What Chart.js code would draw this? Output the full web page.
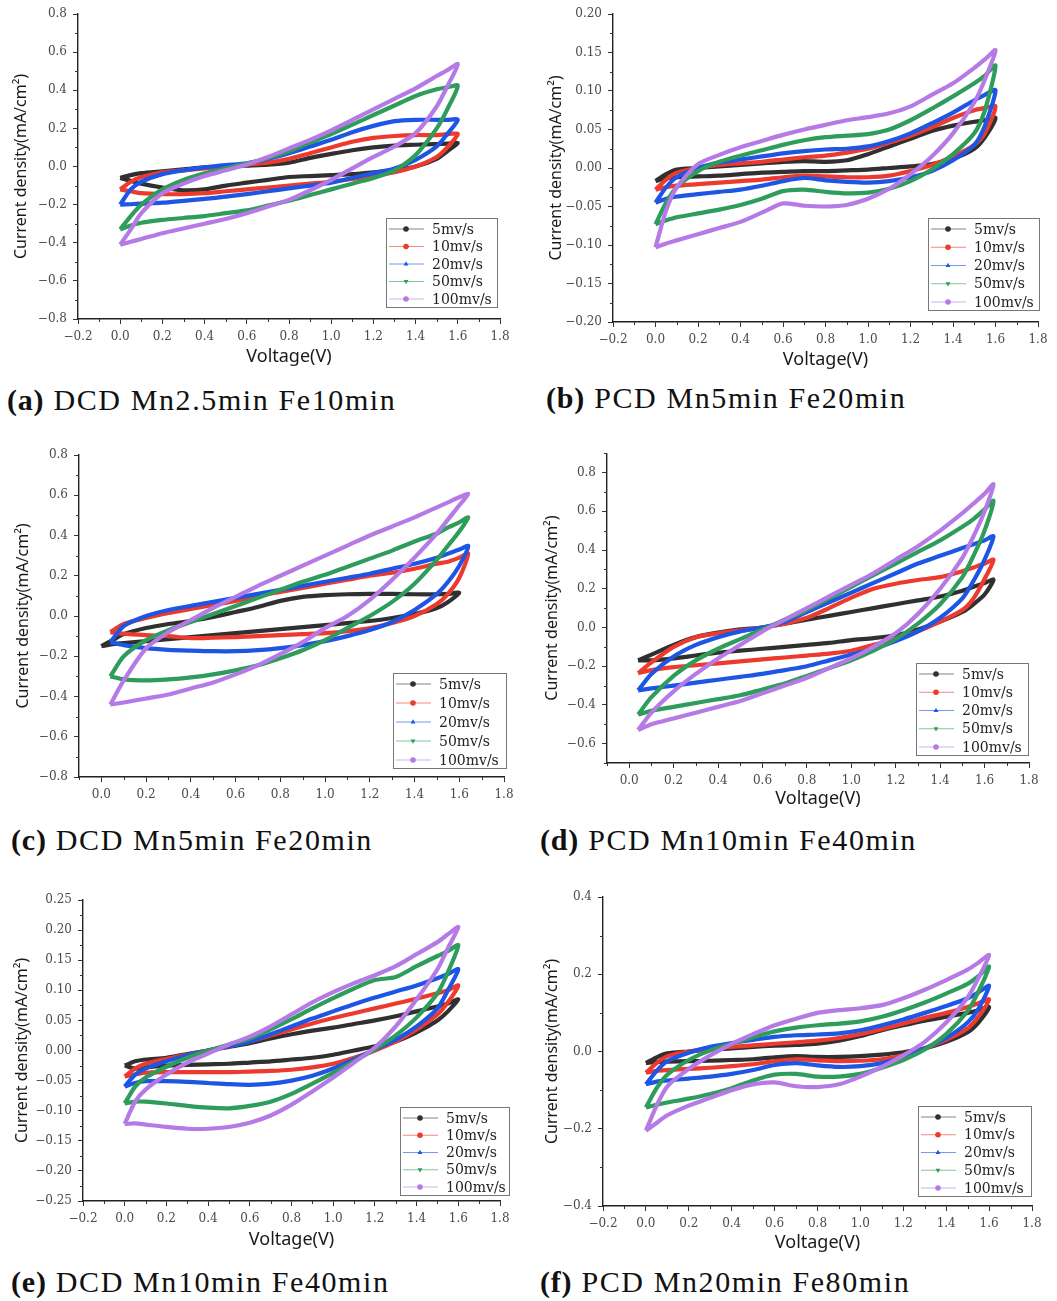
<!DOCTYPE html>
<html>
<head>
<meta charset="utf-8">
<script src="https://cdn.jsdelivr.net/npm/chart.js@4.4.1/dist/chart.umd.min.js"></script>
<style>
  body { margin: 0; background: #fff; width: 1057px; height: 1301px; position: relative; overflow: hidden; }
  canvas { position: absolute; }
  .cap { position: absolute; font-family: 'Liberation Serif', serif; font-size: 30px; line-height: 30px;
         letter-spacing: 1.6px; color: #111; white-space: nowrap; }
  .cap b { letter-spacing: 0.8px; }
</style>
</head>
<body>
<canvas id="cvA"></canvas>
<canvas id="cvB"></canvas>
<canvas id="cvC"></canvas>
<canvas id="cvD"></canvas>
<canvas id="cvE"></canvas>
<canvas id="cvF"></canvas>
<div class="cap" style="left:7px;top:385px"><b>(a)</b> DCD Mn2.5min Fe10min</div>
<div class="cap" style="left:546px;top:383px"><b>(b)</b> PCD Mn5min Fe20min</div>
<div class="cap" style="left:11px;top:825px"><b>(c)</b> DCD Mn5min Fe20min</div>
<div class="cap" style="left:540px;top:825px"><b>(d)</b> PCD Mn10min Fe40min</div>
<div class="cap" style="left:11px;top:1267px"><b>(e)</b> DCD Mn10min Fe40min</div>
<div class="cap" style="left:540px;top:1267px"><b>(f)</b> PCD Mn20min Fe80min</div>
<script>
// scan rates and their colours / markers
const rates = ['5mv/s', '10mv/s', '20mv/s', '50mv/s', '100mv/s'];
const colors = ['#303030', '#ec3a2e', '#1d55e4', '#2e9c5a', '#b57ae6'];
const markers = ['circle', 'circle', 'triangle', 'triangle', 'circle'];
const markerRot = [0, 0, 0, 180, 0];

// potential sweep: forward scan then reverse scan (V)
const scan0 = [0, 0.05, 0.1, 0.2, 0.3, 0.4, 0.5, 0.6, 0.7, 0.8, 0.9, 1.0, 1.1, 1.2, 1.3, 1.4, 1.5, 1.55, 1.6,
  1.55, 1.5, 1.4, 1.3, 1.2, 1.1, 1.0, 0.9, 0.8, 0.7, 0.6, 0.5, 0.4, 0.3, 0.2, 0.1, 0.05, 0];
const scan4 = [0.04, 0.1, 0.2, 0.3, 0.4, 0.5, 0.6, 0.7, 0.8, 0.9, 1.0, 1.1, 1.2, 1.3, 1.4, 1.5, 1.55, 1.6, 1.64,
  1.6, 1.55, 1.5, 1.4, 1.3, 1.2, 1.1, 1.0, 0.9, 0.8, 0.7, 0.6, 0.5, 0.4, 0.3, 0.2, 0.1, 0.04];

// axis ticks
const xTicksFull = [-0.2, 0, 0.2, 0.4, 0.6, 0.8, 1.0, 1.2, 1.4, 1.6, 1.8];
const xTicksPos = [0, 0.2, 0.4, 0.6, 0.8, 1.0, 1.2, 1.4, 1.6, 1.8];
const yTicksA = [-0.8, -0.6, -0.4, -0.2, 0, 0.2, 0.4, 0.6, 0.8];
const yTicksB = [-0.2, -0.15, -0.1, -0.05, 0, 0.05, 0.1, 0.15, 0.2];
const yTicksD = [-0.6, -0.4, -0.2, 0, 0.2, 0.4, 0.6, 0.8];
const yTicksE = [-0.25, -0.2, -0.15, -0.1, -0.05, 0, 0.05, 0.1, 0.15, 0.2, 0.25];
const yTicksF = [-0.4, -0.2, 0, 0.2, 0.4];

// (a) DCD Mn2.5min Fe10min, current density mA/cm2
const a5 = [-0.06, -0.045, -0.035, -0.025, -0.015, -0.005, 0.0, 0.005, 0.01, 0.02, 0.045, 0.066, 0.085, 0.1, 0.11, 0.114, 0.118, 0.12, 0.123,
  0.08, 0.04, 0.0, -0.02, -0.03, -0.04, -0.045, -0.05, -0.055, -0.07, -0.085, -0.1, -0.12, -0.125, -0.11, -0.09, -0.075, -0.06];
const a10 = [-0.12, -0.08, -0.055, -0.03, -0.02, -0.01, 0.0, 0.01, 0.02, 0.04, 0.07, 0.1, 0.13, 0.15, 0.16, 0.165, 0.165, 0.17, 0.17,
  0.1, 0.05, 0.0, -0.03, -0.05, -0.065, -0.08, -0.09, -0.1, -0.11, -0.12, -0.13, -0.14, -0.145, -0.145, -0.14, -0.13, -0.12];
const a20 = [-0.2, -0.12, -0.08, -0.04, -0.02, -0.005, 0.007, 0.017, 0.04, 0.07, 0.105, 0.14, 0.18, 0.213, 0.238, 0.245, 0.245, 0.245, 0.245,
  0.17, 0.105, 0.035, -0.01, -0.035, -0.06, -0.085, -0.1, -0.115, -0.13, -0.145, -0.158, -0.17, -0.18, -0.19, -0.195, -0.198, -0.2];
const a50 = [-0.33, -0.26, -0.2, -0.12, -0.07, -0.035, -0.01, 0.015, 0.045, 0.08, 0.125, 0.17, 0.22, 0.27, 0.32, 0.37, 0.405, 0.415, 0.424,
  0.3, 0.2, 0.06, -0.02, -0.06, -0.09, -0.12, -0.15, -0.18, -0.205, -0.23, -0.245, -0.26, -0.27, -0.28, -0.295, -0.31, -0.33];
const a100 = [-0.41, -0.33, -0.245, -0.14, -0.09, -0.05, -0.02, 0.01, 0.05, 0.095, 0.14, 0.19, 0.245, 0.3, 0.355, 0.41, 0.475, 0.505, 0.537,
  0.42, 0.315, 0.175, 0.105, 0.05, -0.01, -0.07, -0.125, -0.175, -0.21, -0.245, -0.275, -0.3, -0.325, -0.35, -0.38, -0.395, -0.41];

// (b) PCD Mn5min Fe20min
const b5 = [-0.017, -0.008, -0.002, 0.0, 0.002, 0.004, 0.006, 0.008, 0.009, 0.008, 0.01, 0.018, 0.028, 0.038, 0.048, 0.055, 0.06, 0.062, 0.065,
  0.04, 0.025, 0.012, 0.005, 0.002, 0.0, -0.002, -0.003, -0.004, -0.004, -0.005, -0.006, -0.008, -0.01, -0.011, -0.012, -0.013, -0.017];
const b10 = [-0.028, -0.015, -0.006, 0.0, 0.004, 0.006, 0.008, 0.011, 0.014, 0.016, 0.02, 0.025, 0.033, 0.042, 0.053, 0.065, 0.075, 0.078, 0.08,
  0.045, 0.03, 0.015, 0.004, -0.004, -0.01, -0.012, -0.012, -0.011, -0.01, -0.012, -0.015, -0.017, -0.019, -0.021, -0.023, -0.025, -0.028];
const b20 = [-0.045, -0.025, -0.012, 0.0, 0.007, 0.011, 0.015, 0.019, 0.022, 0.024, 0.025, 0.028, 0.035, 0.045, 0.058, 0.072, 0.088, 0.095, 0.101,
  0.055, 0.03, 0.01, -0.004, -0.012, -0.017, -0.019, -0.018, -0.016, -0.013, -0.017, -0.023, -0.028, -0.031, -0.034, -0.037, -0.04, -0.045];
const b50 = [-0.073, -0.045, -0.025, -0.004, 0.008, 0.016, 0.023, 0.03, 0.036, 0.04, 0.042, 0.044, 0.05, 0.062, 0.077, 0.093, 0.11, 0.12, 0.133,
  0.075, 0.045, 0.018, -0.002, -0.017, -0.027, -0.032, -0.033, -0.031, -0.028, -0.03, -0.04, -0.048, -0.054, -0.059, -0.064, -0.068, -0.073];
const b100 = [-0.103, -0.055, -0.025, 0.005, 0.017, 0.027, 0.035, 0.043, 0.05, 0.056, 0.062, 0.066, 0.071, 0.08, 0.095, 0.11, 0.13, 0.141, 0.153,
  0.115, 0.085, 0.045, 0.015, -0.008, -0.027, -0.04, -0.048, -0.05, -0.049, -0.046, -0.058, -0.07, -0.078, -0.086, -0.094, -0.098, -0.103];

// (c) DCD Mn5min Fe20min (5 mV/s on scan0, the rest on scan4)
const c5 = [-0.15, -0.12, -0.09, -0.06, -0.04, -0.025, -0.005, 0.02, 0.045, 0.075, 0.095, 0.104, 0.108, 0.11, 0.11, 0.108, 0.108, 0.11, 0.115,
  0.07, 0.04, 0.01, -0.01, -0.025, -0.035, -0.045, -0.055, -0.065, -0.075, -0.085, -0.095, -0.105, -0.115, -0.125, -0.135, -0.14, -0.15];
const c10 = [-0.08, -0.04, -0.01, 0.015, 0.035, 0.055, 0.075, 0.1, 0.12, 0.14, 0.16, 0.18, 0.2, 0.215, 0.235, 0.26, 0.27, 0.29, 0.31,
  0.19, 0.11, 0.06, 0.0, -0.035, -0.06, -0.075, -0.085, -0.09, -0.095, -0.1, -0.105, -0.108, -0.11, -0.1, -0.095, -0.088, -0.08];
const c20 = [-0.13, -0.05, 0.0, 0.03, 0.05, 0.07, 0.09, 0.11, 0.13, 0.15, 0.17, 0.19, 0.21, 0.235, 0.26, 0.29, 0.31, 0.33, 0.348,
  0.25, 0.17, 0.11, 0.03, -0.03, -0.07, -0.1, -0.125, -0.145, -0.16, -0.17, -0.175, -0.175, -0.172, -0.168, -0.16, -0.145, -0.13];
const c50 = [-0.3, -0.2, -0.12, -0.07, -0.03, 0.01, 0.05, 0.09, 0.13, 0.17, 0.205, 0.245, 0.285, 0.325, 0.37, 0.41, 0.44, 0.465, 0.49,
  0.42, 0.35, 0.28, 0.16, 0.07, 0.0, -0.06, -0.12, -0.17, -0.21, -0.245, -0.27, -0.29, -0.305, -0.315, -0.32, -0.315, -0.3];
const c100 = [-0.44, -0.32, -0.16, -0.08, -0.02, 0.04, 0.095, 0.15, 0.2, 0.25, 0.3, 0.35, 0.4, 0.445, 0.49, 0.54, 0.565, 0.59, 0.606,
  0.55, 0.48, 0.41, 0.29, 0.18, 0.08, 0.0, -0.06, -0.13, -0.19, -0.245, -0.29, -0.33, -0.36, -0.39, -0.41, -0.43, -0.44];

// (d) PCD Mn10min Fe40min (scan4)
const d5 = [-0.17, -0.14, -0.09, -0.05, -0.027, -0.01, 0.0, 0.02, 0.04, 0.06, 0.08, 0.1, 0.12, 0.14, 0.16, 0.19, 0.21, 0.23, 0.247,
  0.17, 0.12, 0.08, 0.03, -0.01, -0.04, -0.055, -0.065, -0.08, -0.09, -0.1, -0.11, -0.12, -0.13, -0.145, -0.16, -0.17, -0.17];
const d10 = [-0.236, -0.18, -0.1, -0.05, -0.03, -0.015, 0.0, 0.02, 0.05, 0.1, 0.154, 0.2, 0.226, 0.245, 0.26, 0.29, 0.31, 0.33, 0.35,
  0.25, 0.15, 0.09, 0.03, -0.02, -0.06, -0.09, -0.12, -0.135, -0.145, -0.155, -0.165, -0.175, -0.185, -0.195, -0.205, -0.22, -0.236];
const d20 = [-0.325, -0.24, -0.15, -0.09, -0.05, -0.02, 0.0, 0.03, 0.08, 0.13, 0.18, 0.23, 0.28, 0.33, 0.37, 0.41, 0.43, 0.45, 0.471,
  0.35, 0.24, 0.15, 0.05, -0.02, -0.07, -0.11, -0.14, -0.17, -0.2, -0.22, -0.24, -0.255, -0.27, -0.285, -0.3, -0.315, -0.325];
const d50 = [-0.45, -0.36, -0.25, -0.17, -0.11, -0.06, -0.01, 0.04, 0.09, 0.15, 0.21, 0.27, 0.33, 0.39, 0.45, 0.52, 0.56, 0.61, 0.654,
  0.5, 0.37, 0.26, 0.12, 0.02, -0.06, -0.12, -0.17, -0.21, -0.25, -0.29, -0.32, -0.35, -0.37, -0.39, -0.41, -0.43, -0.45];
const d100 = [-0.53, -0.44, -0.33, -0.24, -0.16, -0.09, -0.02, 0.04, 0.1, 0.16, 0.22, 0.28, 0.35, 0.42, 0.5, 0.59, 0.64, 0.69, 0.74,
  0.6, 0.47, 0.36, 0.2, 0.07, -0.03, -0.1, -0.16, -0.21, -0.26, -0.3, -0.34, -0.38, -0.41, -0.44, -0.47, -0.5, -0.53];

// (e) DCD Mn10min Fe40min (scan0)
const e5 = [-0.025, -0.018, -0.015, -0.012, -0.006, 0.0, 0.006, 0.012, 0.02, 0.027, 0.033, 0.038, 0.044, 0.05, 0.057, 0.065, 0.073, 0.078, 0.085,
  0.065, 0.05, 0.03, 0.015, 0.007, 0.0, -0.007, -0.012, -0.015, -0.018, -0.02, -0.022, -0.023, -0.024, -0.025, -0.028, -0.03, -0.025];
const e10 = [-0.043, -0.03, -0.022, -0.014, -0.007, 0.0, 0.007, 0.015, 0.025, 0.035, 0.045, 0.054, 0.062, 0.07, 0.078, 0.086, 0.095, 0.1, 0.108,
  0.08, 0.06, 0.035, 0.015, 0.0, -0.012, -0.022, -0.028, -0.032, -0.034, -0.035, -0.036, -0.036, -0.036, -0.036, -0.037, -0.04, -0.043];
const e20 = [-0.06, -0.04, -0.03, -0.018, -0.008, 0.0, 0.007, 0.015, 0.027, 0.04, 0.053, 0.065, 0.077, 0.088, 0.098, 0.108, 0.12, 0.127, 0.135,
  0.1, 0.07, 0.04, 0.018, 0.002, -0.015, -0.03, -0.042, -0.05, -0.055, -0.057, -0.056, -0.054, -0.052, -0.051, -0.051, -0.054, -0.06];
const e50 = [-0.088, -0.06, -0.045, -0.027, -0.012, 0.0, 0.01, 0.02, 0.035, 0.052, 0.07, 0.087, 0.103, 0.117, 0.122, 0.14, 0.157, 0.165, 0.175,
  0.13, 0.095, 0.055, 0.025, 0.002, -0.018, -0.037, -0.055, -0.072, -0.085, -0.092, -0.096, -0.095, -0.092, -0.088, -0.085, -0.085, -0.088];
const e100 = [-0.122, -0.085, -0.065, -0.04, -0.02, -0.005, 0.01, 0.023, 0.04, 0.06, 0.08, 0.097, 0.112, 0.125, 0.14, 0.16, 0.18, 0.193, 0.205,
  0.17, 0.135, 0.085, 0.04, 0.005, -0.02, -0.045, -0.068, -0.09, -0.108, -0.12, -0.127, -0.13, -0.13, -0.127, -0.123, -0.121, -0.122];

// (f) PCD Mn20min Fe80min (scan0)
const f5 = [-0.03, -0.015, -0.005, 0.0, 0.005, 0.008, 0.012, 0.015, 0.017, 0.02, 0.028, 0.04, 0.055, 0.068, 0.08, 0.09, 0.1, 0.107, 0.115,
  0.075, 0.05, 0.025, 0.008, -0.002, -0.008, -0.012, -0.014, -0.014, -0.012, -0.015, -0.02, -0.022, -0.024, -0.025, -0.026, -0.027, -0.03];
const f10 = [-0.055, -0.03, -0.012, 0.0, 0.007, 0.012, 0.016, 0.02, 0.024, 0.028, 0.035, 0.045, 0.058, 0.072, 0.087, 0.1, 0.115, 0.125, 0.135,
  0.09, 0.06, 0.03, 0.008, -0.01, -0.02, -0.024, -0.025, -0.023, -0.02, -0.025, -0.033, -0.038, -0.042, -0.045, -0.048, -0.05, -0.055];
const f20 = [-0.085, -0.05, -0.025, -0.003, 0.012, 0.022, 0.03, 0.038, 0.042, 0.044, 0.047, 0.055, 0.068, 0.083, 0.1, 0.118, 0.138, 0.153, 0.17,
  0.11, 0.075, 0.035, 0.008, -0.015, -0.03, -0.038, -0.04, -0.036, -0.03, -0.035, -0.048, -0.058, -0.065, -0.07, -0.075, -0.078, -0.085];
const f50 = [-0.145, -0.095, -0.06, -0.022, 0.003, 0.02, 0.037, 0.052, 0.062, 0.068, 0.072, 0.078, 0.09, 0.107, 0.127, 0.15, 0.175, 0.195, 0.22,
  0.155, 0.105, 0.045, 0.005, -0.022, -0.042, -0.058, -0.065, -0.065, -0.058, -0.06, -0.075, -0.095, -0.11, -0.122, -0.132, -0.138, -0.145];
const f100 = [-0.205, -0.14, -0.09, -0.045, -0.01, 0.02, 0.045, 0.068, 0.085, 0.1, 0.107, 0.112, 0.12, 0.138, 0.16, 0.185, 0.212, 0.23, 0.25,
  0.19, 0.14, 0.075, 0.025, -0.01, -0.04, -0.065, -0.085, -0.092, -0.09, -0.08, -0.085, -0.1, -0.12, -0.14, -0.165, -0.185, -0.205];

// box = canvas [left, top, w, h]; area = plot [left, top, right, bottom]; legend = [left, top, w, h] (page px)
const panels = [
  { id: 'cvA', box: [0, 0, 525, 372], area: [78, 14, 500, 319], x: [-0.2, 1.8], y: [-0.8, 0.8],
    xTicks: xTicksFull, yTicks: yTicksA, digits: 1, xTitle: 357, yTitle: 21, legend: [386, 218, 111, 89],
    scans: [scan0, scan0, scan0, scan0, scan0], loops: [a5, a10, a20, a50, a100] },
  { id: 'cvB', box: [530, 0, 527, 372], area: [613, 14, 1038, 322], x: [-0.2, 1.8], y: [-0.2, 0.2],
    xTicks: xTicksFull, yTicks: yTicksB, digits: 2, xTitle: 360, yTitle: 556, legend: [928, 218, 111, 92],
    scans: [scan0, scan0, scan0, scan0, scan0], loops: [b5, b10, b20, b50, b100] },
  { id: 'cvC', box: [0, 440, 525, 372], area: [79, 455, 504, 777], x: [-0.1, 1.8], y: [-0.8, 0.8],
    xTicks: xTicksPos, yTicks: yTicksA, digits: 1, xTitle: null, yTitle: 23, legend: [393, 673, 113, 95],
    scans: [scan0, scan4, scan4, scan4, scan4], loops: [c5, c10, c20, c50, c100] },
  { id: 'cvD', box: [530, 440, 527, 372], area: [607, 453, 1029, 763], x: [-0.1, 1.8], y: [-0.7, 0.9],
    xTicks: xTicksPos, yTicks: yTicksD, digits: 1, xTitle: 799, yTitle: 552, legend: [916, 663, 112, 92],
    scans: [scan4, scan4, scan4, scan4, scan4], loops: [d5, d10, d20, d50, d100] },
  { id: 'cvE', box: [0, 880, 525, 372], area: [83, 900, 500, 1201], x: [-0.2, 1.8], y: [-0.25, 0.25],
    xTicks: xTicksFull, yTicks: yTicksE, digits: 2, xTitle: 1240, yTitle: 22, legend: [400, 1107, 109, 88],
    scans: [scan0, scan0, scan0, scan0, scan0], loops: [e5, e10, e20, e50, e100] },
  { id: 'cvF', box: [530, 880, 527, 372], area: [603, 897, 1032, 1206], x: [-0.2, 1.8], y: [-0.4, 0.4],
    xTicks: xTicksFull, yTicks: yTicksF, digits: 1, xTitle: 1243, yTitle: 552, legend: [918, 1106, 113, 90],
    scans: [scan0, scan0, scan0, scan0, scan0], loops: [f5, f10, f20, f50, f100] }
];

const tickFont = { family: "'DejaVu Serif', serif", size: 12 };
const titleFont = { family: "'Noto Sans', sans-serif", size: 18 };
const yTitleFont = { family: "'Noto Sans', sans-serif", size: 16 };

function fmt(v, d) {
  return v.toFixed(d).replace('-', '\u2212');
}

// minor ticks halfway between the major ones
function minorValues(ticks, min, max) {
  const out = [];
  const half = (ticks[1] - ticks[0]) / 2;
  const first = ticks[0] - half;
  if (first >= min - 1e-9) out.push(first);
  for (let i = 0; i < ticks.length - 1; i++) out.push((ticks[i] + ticks[i + 1]) / 2);
  const last = ticks[ticks.length - 1] + half;
  if (last <= max + 1e-9) out.push(last);
  return out;
}

// minor tick marks and the boxed legend inside the plot
const cvDecor = {
  id: 'cvDecor',
  afterDraw(chart, args, opts) {
    const ctx = chart.ctx;
    const xs = chart.scales.x, ys = chart.scales.y;
    const area = chart.chartArea;
    ctx.save();
    ctx.strokeStyle = '#333';
    ctx.lineWidth = 1;
    minorValues(opts.xTicks, xs.min, xs.max).forEach(v => {
      const px = Math.round(xs.getPixelForValue(v)) + 0.5;
      ctx.beginPath(); ctx.moveTo(px, area.bottom); ctx.lineTo(px, area.bottom + 3); ctx.stroke();
    });
    minorValues(opts.yTicks, ys.min, ys.max).forEach(v => {
      const py = Math.round(ys.getPixelForValue(v)) + 0.5;
      ctx.beginPath(); ctx.moveTo(area.left - 3, py); ctx.lineTo(area.left, py); ctx.stroke();
    });

    // legend
    const [lx, ly, lw, lh] = opts.legend;
    const left = lx - opts.offset[0], top = ly - opts.offset[1];
    ctx.strokeStyle = '#777';
    ctx.lineWidth = 1;
    ctx.strokeRect(left + 0.5, top + 0.5, lw, lh);
    const step = (lh - 19) / 4;
    ctx.font = "14px 'DejaVu Serif', serif";
    ctx.textBaseline = 'middle';
    chart.data.datasets.forEach((ds, i) => {
      const cy = top + 11 + i * step;
      ctx.globalAlpha = 0.6;
      ctx.strokeStyle = colors[i];
      ctx.beginPath(); ctx.moveTo(left + 3, cy); ctx.lineTo(left + 38, cy); ctx.stroke();
      ctx.globalAlpha = 1;
      ctx.fillStyle = colors[i];
      ctx.strokeStyle = colors[i];
      Chart.helpers.drawPoint(ctx, { pointStyle: markers[i], rotation: markerRot[i], radius: 2.8, borderWidth: 0 }, left + 20, cy);
      ctx.fillStyle = '#222';
      ctx.fillText(ds.label, left + 46, cy + 1);
    });
    ctx.restore();
  }
};

panels.forEach(p => {
  const [bx, by, bw, bh] = p.box;
  const [al, at, ar, ab] = p.area;
  const canvas = document.getElementById(p.id);
  canvas.width = bw;
  canvas.height = bh;
  canvas.style.left = bx + 'px';
  canvas.style.top = by + 'px';

  const datasets = rates.map((r, i) => ({
    label: r,
    data: p.scans[i].map((v, k) => ({ x: v, y: p.loops[i][k] })),
    showLine: true,
    borderColor: colors[i],
    backgroundColor: colors[i],
    borderWidth: 4.2,
    pointRadius: 0,
    tension: 0.25,
    fill: false,
    order: 4 - i
  }));

  const tl = titleFont.size * 1.2, ytl = yTitleFont.size * 1.2;

  new Chart(canvas, {
    type: 'scatter',
    data: { datasets },
    options: {
      responsive: false,
      animation: false,
      devicePixelRatio: 1,
      layout: { padding: { left: 0, top: at - by, right: bx + bw - ar, bottom: 0 } },
      scales: {
        x: {
          type: 'linear', min: p.x[0], max: p.x[1],
          afterBuildTicks: s => { s.ticks = p.xTicks.map(v => ({ value: v })); },
          afterFit: s => { s.height = by + bh - ab; },
          ticks: { callback: v => fmt(v, 1), font: tickFont, color: '#4a4a4a', padding: 6, maxRotation: 0, autoSkip: false },
          grid: { display: true, drawOnChartArea: false, drawTicks: true, tickLength: 5, color: '#333' },
          border: { display: true, color: '#222', width: 1.4 },
          title: {
            display: p.xTitle !== null, text: 'Voltage(V)', color: '#1a1a1a', font: titleFont,
            padding: { top: 0, bottom: p.xTitle !== null ? (by + bh - p.xTitle - tl / 2) : 0 }
          }
        },
        y: {
          type: 'linear', min: p.y[0], max: p.y[1],
          afterBuildTicks: s => { s.ticks = p.yTicks.map(v => ({ value: v })); },
          afterFit: s => { s.width = al - bx; },
          ticks: { callback: v => fmt(v, p.digits), font: tickFont, color: '#4a4a4a', padding: 6, autoSkip: false },
          grid: { display: true, drawOnChartArea: false, drawTicks: true, tickLength: 5, color: '#333' },
          border: { display: true, color: '#222', width: 1.4 },
          title: {
            display: true, text: 'Current density(mA/cm\u00b2)', color: '#1a1a1a', font: yTitleFont,
            padding: { top: p.yTitle - bx - ytl / 2, bottom: 0 }
          }
        }
      },
      plugins: {
        legend: { display: false },
        tooltip: { enabled: false },
        cvDecor: { xTicks: p.xTicks, yTicks: p.yTicks, legend: p.legend, offset: [bx, by] }
      }
    },
    plugins: [cvDecor]
  });
});
</script>
</body>
</html>
